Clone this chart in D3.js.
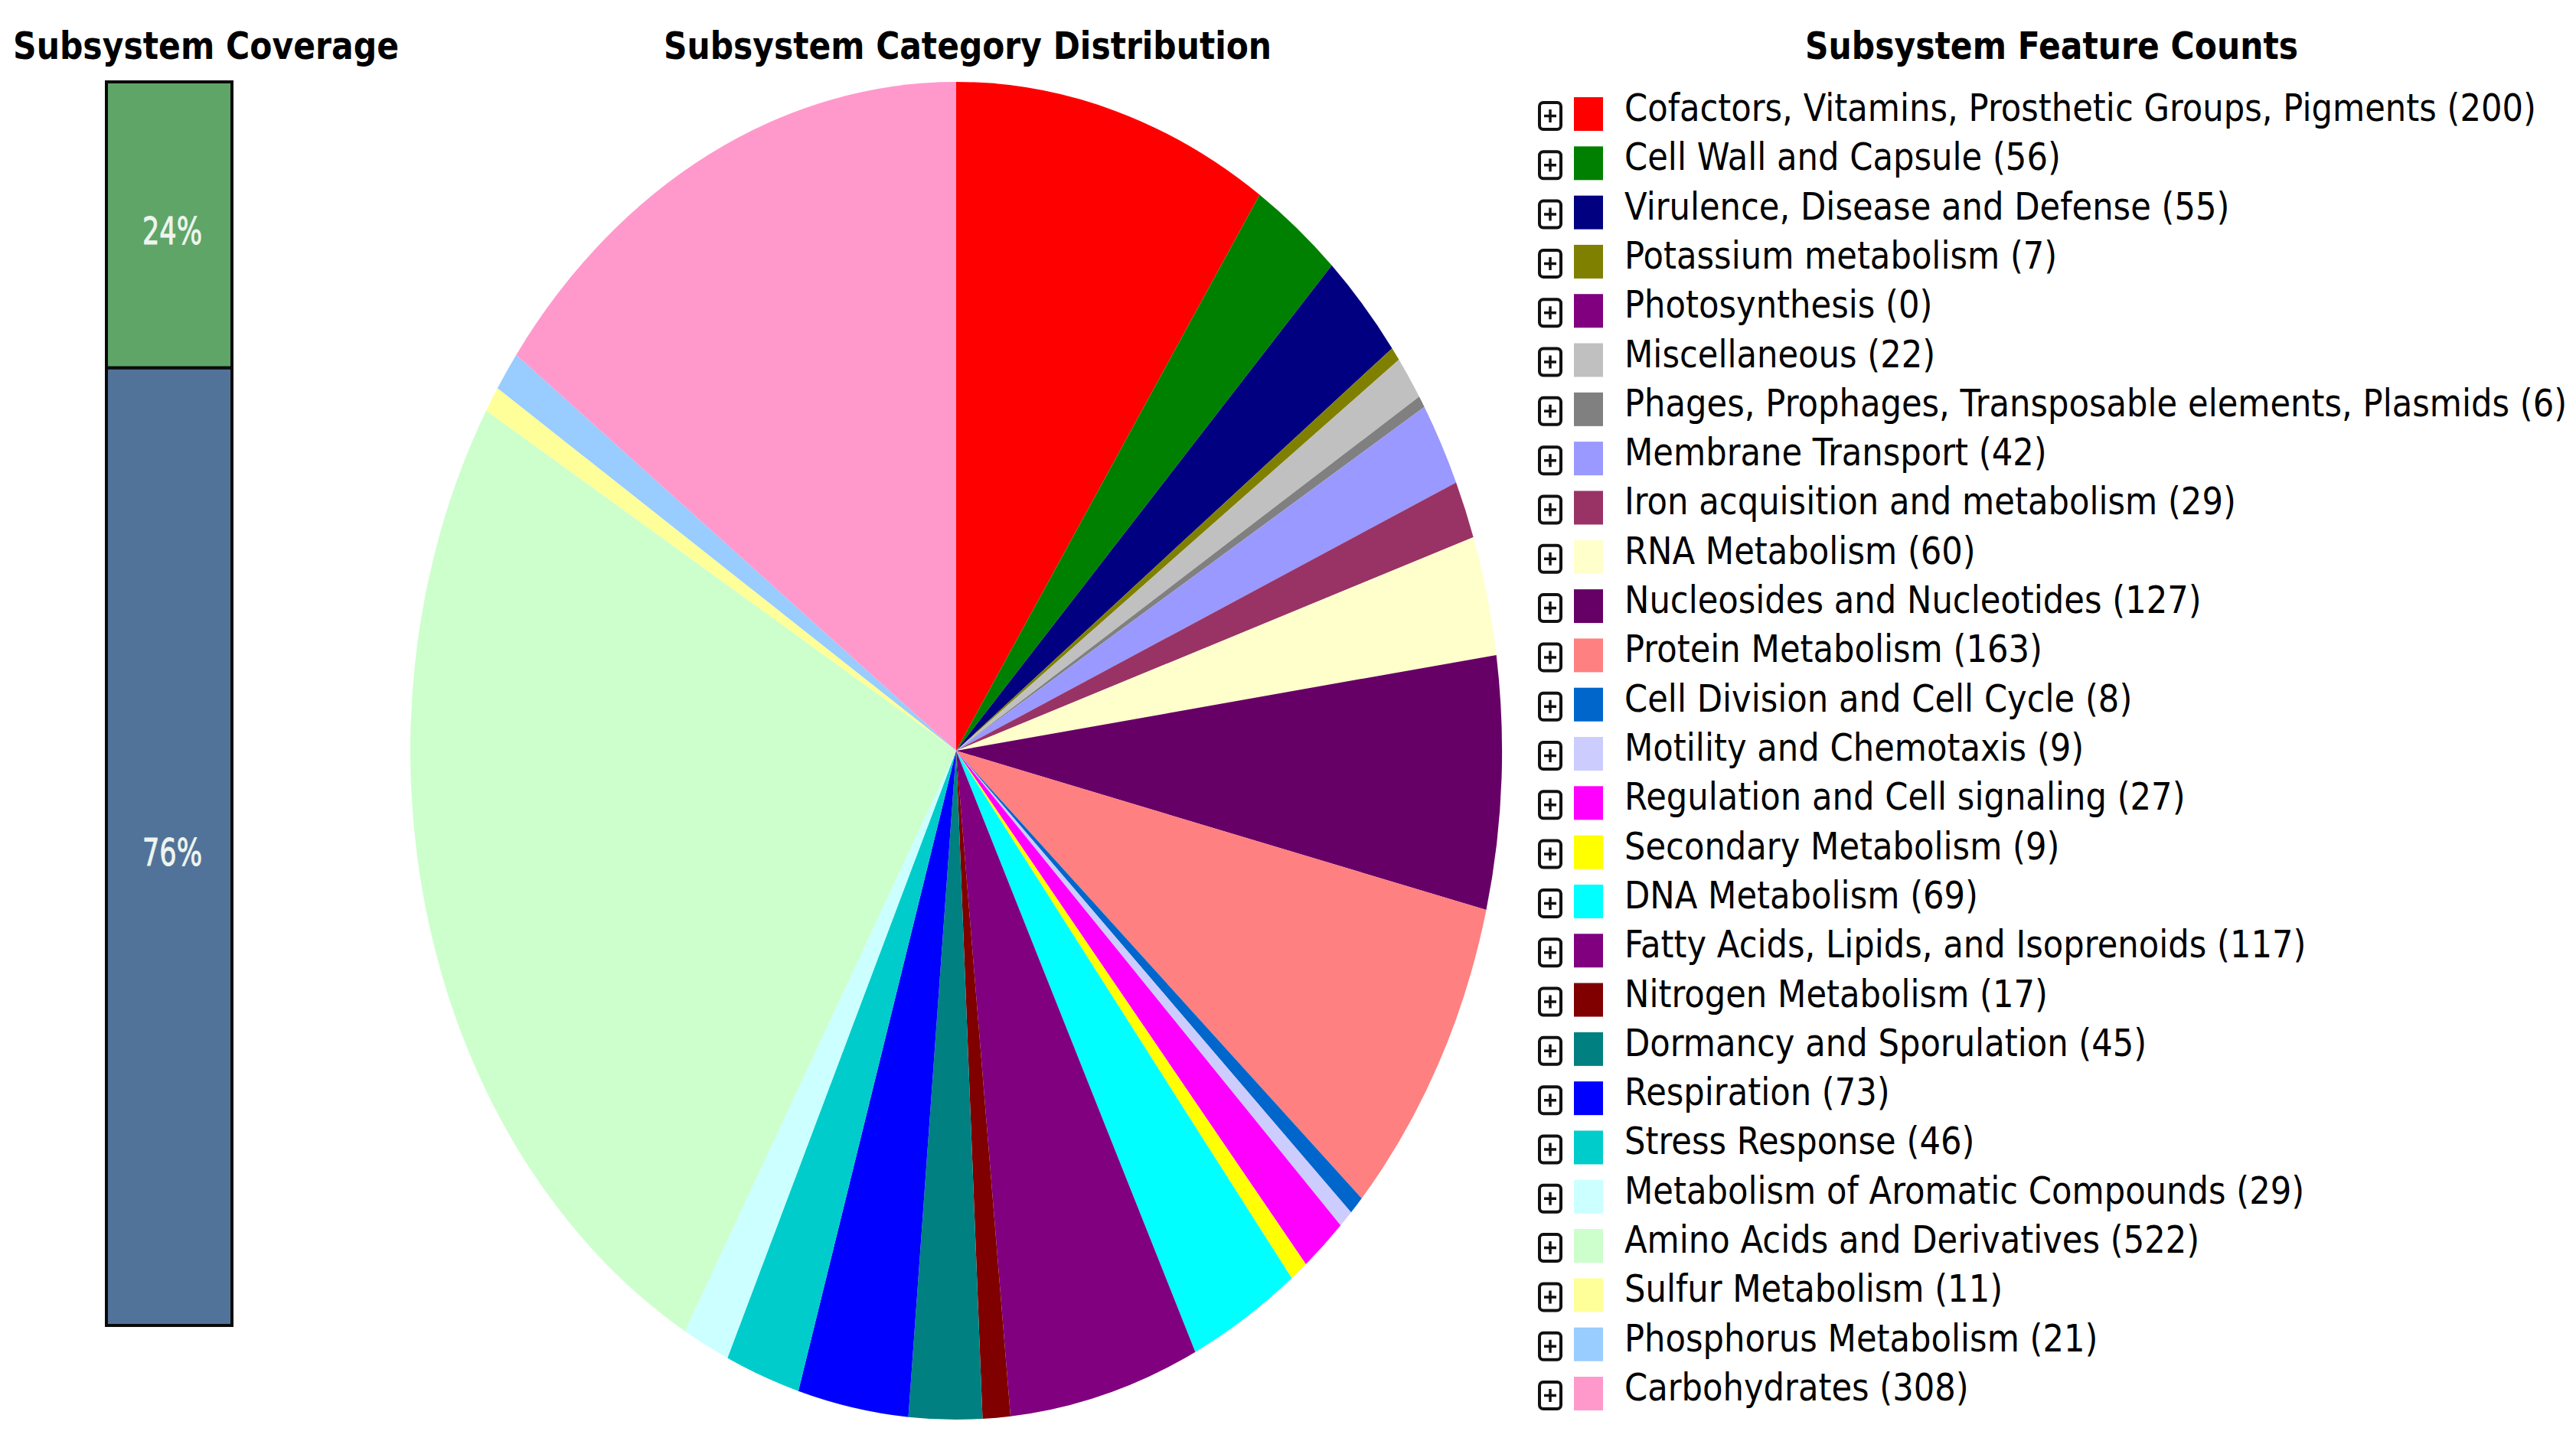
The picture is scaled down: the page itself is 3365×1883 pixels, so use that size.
<!DOCTYPE html>
<html>
<head>
<meta charset="utf-8">
<script src="https://cdn.jsdelivr.net/npm/d3@7"></script>
<style>
html, body { margin: 0; padding: 0; background: #fff; }
svg { display: block; }
text { font-family: "DejaVu Sans", sans-serif; }
</style>
</head>
<body>
<script>
var width = 3365, height = 1883;

// subsystem rows, same order in the legend and clockwise round the pie
var categories = ["Cofactors, Vitamins, Prosthetic Groups, Pigments", "Cell Wall and Capsule", "Virulence, Disease and Defense",
    "Potassium metabolism", "Photosynthesis", "Miscellaneous", "Phages, Prophages, Transposable elements, Plasmids",
    "Membrane Transport", "Iron acquisition and metabolism", "RNA Metabolism", "Nucleosides and Nucleotides",
    "Protein Metabolism", "Cell Division and Cell Cycle", "Motility and Chemotaxis", "Regulation and Cell signaling",
    "Secondary Metabolism", "DNA Metabolism", "Fatty Acids, Lipids, and Isoprenoids", "Nitrogen Metabolism",
    "Dormancy and Sporulation", "Respiration", "Stress Response", "Metabolism of Aromatic Compounds",
    "Amino Acids and Derivatives", "Sulfur Metabolism", "Phosphorus Metabolism", "Carbohydrates"];
var counts = [200, 56, 55, 7, 0, 22, 6, 42, 29, 60, 127, 163, 8, 9, 27, 9, 69, 117, 17, 45, 73, 46, 29, 522, 11, 21, 308];
// slice sizes, they differ a little from the printed counts
var sliceSizes = [195, 56, 55, 7, 0, 22, 6, 42, 29, 60, 127, 163, 9.5, 9, 28.5, 11, 69, 117, 17, 45, 68, 46, 29, 524, 13, 20, 310];
var colors = ["#ff0000", "#008000", "#000080", "#808000", "#800080", "#c0c0c0", "#808080", "#9999ff", "#993366", "#ffffcc",
    "#660066", "#ff8080", "#0066cc", "#ccccff", "#ff00ff", "#ffff00", "#00ffff", "#800080", "#800000", "#008080",
    "#0000ff", "#00cccc", "#ccffff", "#ccffcc", "#ffff99", "#99ccff", "#ff99cc"];

// coverage bar: drawn share, label as printed
var coverageShare = [23, 77];
var coverageLabels = ["24%", "76%"];
var coverageColors = ["#5fa568", "#527399"];

var titles = ["Subsystem Coverage", "Subsystem Category Distribution", "Subsystem Feature Counts"];

var svg = d3.select("body").append("svg")
    .attr("width", width)
    .attr("height", height);

// titles
var titleX = [17, 867, 2358],
    titleW = [504, 794, 644];
svg.selectAll("text.title")
    .data(titles)
    .enter().append("text")
    .attr("class", "title")
    .attr("x", function(d, i) { return titleX[i]; })
    .attr("y", 77)
    .attr("font-size", 50)
    .attr("font-weight", "bold")
    .attr("textLength", function(d, i) { return titleW[i]; })
    .attr("lengthAdjust", "spacingAndGlyphs")
    .text(function(d) { return d; });

// coverage bar
var barY = d3.scaleLinear().domain([0, d3.sum(coverageShare)]).range([107, 1732]);
var cum = 0;
var stack = coverageShare.map(function(v, i) {
    var s = { y0: cum, y1: cum + v, label: coverageLabels[i], color: coverageColors[i] };
    cum += v;
    return s;
});
var seg = svg.selectAll("g.seg")
    .data(stack)
    .enter().append("g")
    .attr("class", "seg");
seg.append("rect")
    .attr("x", 139)
    .attr("width", 164)
    .attr("y", function(d) { return barY(d.y0); })
    .attr("height", function(d) { return barY(d.y1) - barY(d.y0); })
    .attr("fill", function(d) { return d.color; })
    .attr("stroke", "#0a0a0a")
    .attr("stroke-width", 4);
seg.append("text")
    .attr("x", 225)
    .attr("y", function(d) { return (barY(d.y0) + barY(d.y1)) / 2 + 25; })
    .attr("text-anchor", "middle")
    .attr("font-size", 50)
    .attr("fill", "#eef5ee")
    .attr("stroke", "#eef5ee")
    .attr("stroke-width", 1)
    .attr("textLength", 78)
    .attr("lengthAdjust", "spacingAndGlyphs")
    .text(function(d) { return d.label; });

// pie, squashed sideways like the original image
var ry = 874, rx = 713;
var arc = d3.arc().innerRadius(0).outerRadius(ry);
var pie = d3.pie().sort(null)(sliceSizes);
svg.append("g")
    .attr("transform", "translate(1249,981) scale(" + (rx / ry) + ",1)")
    .selectAll("path")
    .data(pie)
    .enter().append("path")
    .attr("d", arc)
    .attr("fill", function(d, i) { return colors[i]; });

// legend
var rowY = d3.scaleLinear().domain([0, categories.length - 1]).range([158, 1830]);
var rows = svg.selectAll("g.row")
    .data(categories)
    .enter().append("g")
    .attr("class", "row")
    .attr("transform", function(d, i) { return "translate(0," + rowY(i) + ")"; });

rows.append("rect")
    .attr("x", 2011)
    .attr("y", -24)
    .attr("width", 28)
    .attr("height", 35)
    .attr("rx", 5)
    .attr("fill", "#fff")
    .attr("stroke", "#111")
    .attr("stroke-width", 4);
rows.append("path")
    .attr("d", "M2017,-6.5H2033M2025,-15V2")
    .attr("stroke", "#111")
    .attr("stroke-width", 3.5);
rows.append("rect")
    .attr("x", 2056)
    .attr("y", -31)
    .attr("width", 38)
    .attr("height", 44)
    .attr("fill", function(d, i) { return colors[i]; });
rows.append("text")
    .attr("transform", "translate(2122,0) scale(0.866,1)")
    .attr("font-size", 50)
    .attr("fill", "#000")
    .text(function(d, i) { return d + " (" + counts[i] + ")"; });
</script>
</body>
</html>
